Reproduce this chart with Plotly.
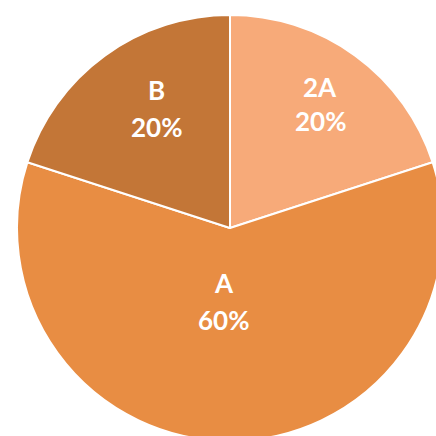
import plotly.graph_objects as go

labels = ["2A", "A", "B"]
values = [20, 60, 20]
colors = ["#F7AA79", "#E88D43", "#C37637"]

# label placement (paper coords) for each slice: (x, y of name line, y of percent line)
label_pos = [(0.7113, 0.832, 0.751), (0.4859, 0.370, 0.284), (0.3263, 0.823, 0.738)]

fig = go.Figure(go.Pie(
    labels=labels,
    values=values,
    sort=False,
    direction="clockwise",
    rotation=0,
    marker=dict(colors=colors, line=dict(color="white", width=2)),
    textinfo="none",
    hoverinfo="none",
    showlegend=False,
))

total = sum(values)
font = dict(family="Lato", size=26, color="white", weight="bold")
for lab, val, (x, y1, y2) in zip(labels, values, label_pos):
    fig.add_annotation(x=x, y=y1, xref="paper", yref="paper", text=lab,
                       showarrow=False, font=font, xanchor="center", yanchor="middle")
    fig.add_annotation(x=x, y=y2, xref="paper", yref="paper", text=f"{round(100*val/total)}%",
                       showarrow=False, font=font, xanchor="center", yanchor="middle")

fig.update_layout(
    width=443, height=441,
    margin=dict(l=17, t=15, r=0, b=0, pad=0),
    paper_bgcolor="white",
    plot_bgcolor="white",
)

fig.write_html("out.html", config={"displayModeBar": False},
               post_script="document.body.style.margin='0';document.body.style.overflow='hidden';document.documentElement.style.overflow='hidden';")
